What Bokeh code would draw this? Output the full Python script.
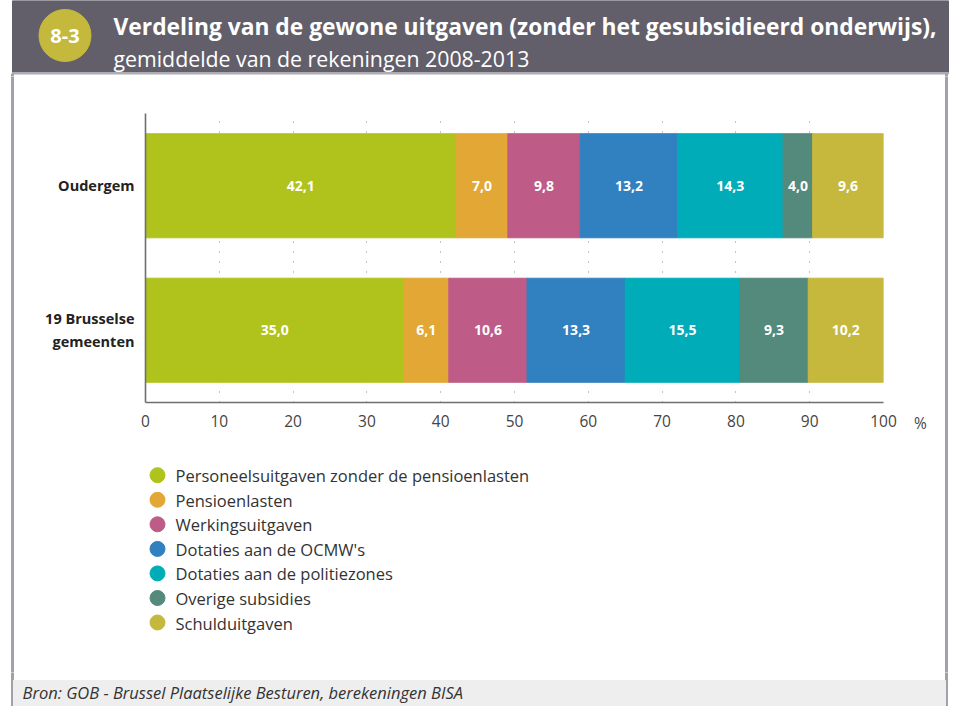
from bokeh.plotting import figure
from bokeh.models import Range1d, FactorRange, FixedTicker, ColumnDataSource
from bokeh.layouts import column, row
from bokeh.core.properties import value
from bokeh.embed import file_html
from bokeh.resources import INLINE

FONT = "Open Sans"

# ---- data ----
categories = ["19 Brusselse\ngemeenten", "Oudergem"]
series_names = [
    "Personeelsuitgaven zonder de pensioenlasten",
    "Pensioenlasten",
    "Werkingsuitgaven",
    "Dotaties aan de OCMW's",
    "Dotaties aan de politiezones",
    "Overige subsidies",
    "Schulduitgaven",
]
colors = ["#B0C31C", "#E2A735", "#BE5B87", "#3180BF", "#00ACB8", "#548A7B", "#C5B83D"]
personeel = [35.0, 42.1]
pensioen = [6.1, 7.0]
werking = [10.6, 9.8]
ocmw = [13.3, 13.2]
politie = [15.5, 14.3]
overige = [9.3, 4.0]
schuld = [10.2, 9.6]
x_ticks = [0, 10, 20, 30, 40, 50, 60, 70, 80, 90, 100]
grid_ticks = [10, 20, 30, 40, 50, 60, 70, 80, 90, 100]
title_bold = "Verdeling van de gewone uitgaven (zonder het gesubsidieerd onderwijs),"
subtitle = "gemiddelde van de rekeningen 2008-2013"
badge = "8-3"
source_note = "Bron: GOB - Brussel Plaatselijke Besturen, berekeningen BISA"
unit_label = "%"

series = [personeel, pensioen, werking, ocmw, politie, overige, schuld]
keys = ["s%d" % i for i in range(len(series))]

BORDER = "#A3A1A8"
HEAD_BG = "#625F6B"

W = 949
MAIN_W = 889
MB_L, MB_R = 131, 20


def deco_fig(w, h, **kw):
    f = figure(width=w, height=h, x_range=kw.pop("x_range", Range1d(0, w)), y_range=Range1d(h, 0),
               output_backend="svg", toolbar_location=None, min_border=0,
               x_axis_location=None, y_axis_location=None, **kw)
    f.grid.visible = False
    f.outline_line_color = None
    f.background_fill_color = "white"
    f.border_fill_color = "white"
    return f


# ---- header ----
head = deco_fig(W, 76)
head.quad(left=[12], right=[948], top=[0], bottom=[72], color=HEAD_BG)
head.quad(left=[12], right=[948], top=[72], bottom=[73.5], color="#AEACB3")
head.quad(left=[11, 945], right=[13, 947], top=[73.5, 73.5], bottom=[76, 76], color=BORDER)
head.circle(x=[64.5], y=[35], radius=26, color="#C4B93C")
head.text(x=[64.5], y=[35], text=[badge], text_font=value(FONT), text_font_style="bold",
          text_font_size="20px", text_color="white", text_align="center", text_baseline="middle")
head.text(x=[113], y=[25.5], text=[title_bold], text_font=value(FONT), text_font_style="bold",
          text_font_size="22.8px", text_color="white", text_align="left", text_baseline="alphabetic")
head.text(x=[113], y=[57.5], text=[subtitle], text_font=value(FONT),
          text_font_size="21.3px", text_color="white", text_align="left", text_baseline="alphabetic")

# ---- main chart ----
p = figure(width=MAIN_W, height=366, y_range=FactorRange(factors=categories), x_range=Range1d(0, 100),
           min_border_left=MB_L, min_border_right=MB_R, min_border_top=37, min_border_bottom=40,
           output_backend="svg", toolbar_location=None)
p.outline_line_color = None
p.background_fill_color = "white"
p.border_fill_color = "white"

data = dict(cat=categories)
for k, s in zip(keys, series):
    data[k] = s
src = ColumnDataSource(data)
p.hbar_stack(keys, y="cat", height=0.72, color=colors, source=src)

lbl_x, lbl_y, lbl_t = [], [], []
for ci, cat in enumerate(categories):
    cum = 0.0
    for s in series:
        v = s[ci]
        lbl_x.append(cum + v / 2.0)
        lbl_y.append(cat)
        lbl_t.append(("%.1f" % v).replace(".", ","))
        cum += v
p.text(x=lbl_x, y=lbl_y, text=lbl_t, text_font=value(FONT), text_font_style="bold",
       text_font_size="14px", text_color="white", text_align="center", text_baseline="middle")

p.xaxis.ticker = FixedTicker(ticks=x_ticks)
p.xgrid.ticker = FixedTicker(ticks=grid_ticks)
p.xgrid.grid_line_color = "#8a8a8a"
p.xgrid.grid_line_dash = "1 9"
p.xgrid.grid_line_width = 1
p.ygrid.visible = False

for ax in (p.xaxis, p.yaxis):
    ax.axis_line_color = "#6f6f6f"
    ax.axis_line_width = 1.6
    ax.major_tick_line_color = None
    ax.minor_tick_line_color = None
    ax.major_tick_out = 0
    ax.major_tick_in = 0
    ax.major_label_text_font = FONT

p.xaxis.major_label_text_font_size = "15.5px"
p.xaxis.major_label_text_color = "#444444"
p.xaxis.major_label_standoff = 12
p.yaxis.major_label_text_font_size = "14.5px"
p.yaxis.major_label_text_font_style = "bold"
p.yaxis.major_label_text_color = "#222222"
p.yaxis.major_label_standoff = 11

# ---- legend (frame aligned with the chart frame; data units = pixels) ----
LEG_H = 230
leg = figure(width=MAIN_W, height=LEG_H, x_range=Range1d(MB_L, MAIN_W - MB_R), y_range=Range1d(LEG_H, 0),
             output_backend="svg", toolbar_location=None,
             min_border_left=MB_L, min_border_right=MB_R, min_border_top=0, min_border_bottom=0,
             x_axis_location=None, y_axis_location=None)
leg.grid.visible = False
leg.outline_line_color = None
leg.background_fill_color = "white"
leg.border_fill_color = "white"
row_y = [32.7, 57.3, 81.8, 106.4, 130.9, 155.5, 180.0]
leg.scatter(x=[143] * len(series_names), y=row_y, size=15, marker="circle", color=colors)
leg.text(x=[161] * len(series_names), y=[v + 0.5 for v in row_y], text=series_names,
         text_font=value(FONT), text_font_size="16.5px", text_color="#333333",
         text_align="left", text_baseline="middle")

# ---- side strips ----
MID_H = 366 + LEG_H
left = deco_fig(14, MID_H)
left.quad(left=[11], right=[13], top=[0], bottom=[MID_H], color=BORDER)
right = deco_fig(46, MID_H)
right.quad(left=[42], right=[44], top=[0], bottom=[MID_H], color=BORDER)
right.text(x=[17], y=[346], text=[unit_label], text_font=value(FONT), text_font_size="15.5px",
           text_color="#444444", text_align="center", text_baseline="middle")

# ---- footer ----
FOOT_H = 34
foot = deco_fig(W, FOOT_H)
foot.quad(left=[11, 945], right=[13, 947], top=[0, 0], bottom=[FOOT_H, FOOT_H], color=BORDER)
foot.quad(left=[13], right=[945], top=[8], bottom=[FOOT_H], color="#EDEEED")
foot.text(x=[22], y=[20], text=[source_note], text_font=value(FONT), text_font_style="italic",
          text_font_size="16.5px", text_color="#333333", text_align="left", text_baseline="middle")

layout = column(head, row(left, column(p, leg), right), foot)

open("out.html", "w").write(file_html(layout, INLINE))
